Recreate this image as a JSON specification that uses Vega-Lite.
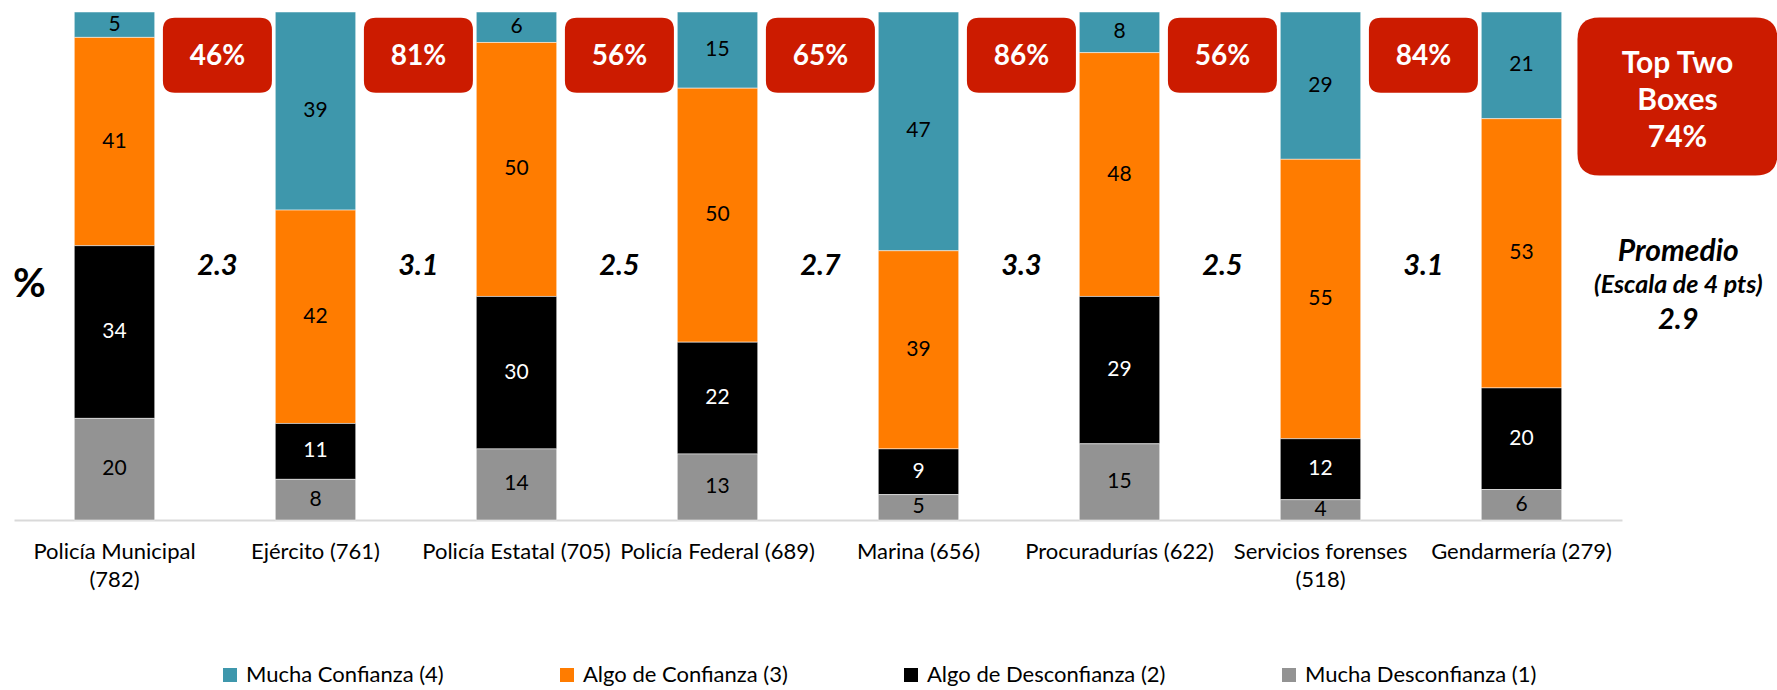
{
  "$schema": "https://vega.github.io/schema/vega-lite/v6.json",
  "width": 1608,
  "height": 508,
  "autosize": {"type": "none"},
  "padding": {"left": 14, "top": 12, "right": 155, "bottom": 170},
  "background": "white",
  "config": {"font": "Lato", "view": {"stroke": null}},
  "datasets": {
    "barras": [
      {"categoria": "Policía Municipal (782)", "nivel": 4, "respuesta": "Mucha Confianza (4)", "valor": 5},
      {"categoria": "Policía Municipal (782)", "nivel": 3, "respuesta": "Algo de Confianza (3)", "valor": 41},
      {"categoria": "Policía Municipal (782)", "nivel": 2, "respuesta": "Algo de Desconfianza (2)", "valor": 34},
      {"categoria": "Policía Municipal (782)", "nivel": 1, "respuesta": "Mucha Desconfianza (1)", "valor": 20},
      {"categoria": "Ejército (761)", "nivel": 4, "respuesta": "Mucha Confianza (4)", "valor": 39},
      {"categoria": "Ejército (761)", "nivel": 3, "respuesta": "Algo de Confianza (3)", "valor": 42},
      {"categoria": "Ejército (761)", "nivel": 2, "respuesta": "Algo de Desconfianza (2)", "valor": 11},
      {"categoria": "Ejército (761)", "nivel": 1, "respuesta": "Mucha Desconfianza (1)", "valor": 8},
      {"categoria": "Policía Estatal (705)", "nivel": 4, "respuesta": "Mucha Confianza (4)", "valor": 6},
      {"categoria": "Policía Estatal (705)", "nivel": 3, "respuesta": "Algo de Confianza (3)", "valor": 50},
      {"categoria": "Policía Estatal (705)", "nivel": 2, "respuesta": "Algo de Desconfianza (2)", "valor": 30},
      {"categoria": "Policía Estatal (705)", "nivel": 1, "respuesta": "Mucha Desconfianza (1)", "valor": 14},
      {"categoria": "Policía Federal (689)", "nivel": 4, "respuesta": "Mucha Confianza (4)", "valor": 15},
      {"categoria": "Policía Federal (689)", "nivel": 3, "respuesta": "Algo de Confianza (3)", "valor": 50},
      {"categoria": "Policía Federal (689)", "nivel": 2, "respuesta": "Algo de Desconfianza (2)", "valor": 22},
      {"categoria": "Policía Federal (689)", "nivel": 1, "respuesta": "Mucha Desconfianza (1)", "valor": 13},
      {"categoria": "Marina (656)", "nivel": 4, "respuesta": "Mucha Confianza (4)", "valor": 47},
      {"categoria": "Marina (656)", "nivel": 3, "respuesta": "Algo de Confianza (3)", "valor": 39},
      {"categoria": "Marina (656)", "nivel": 2, "respuesta": "Algo de Desconfianza (2)", "valor": 9},
      {"categoria": "Marina (656)", "nivel": 1, "respuesta": "Mucha Desconfianza (1)", "valor": 5},
      {"categoria": "Procuradurías (622)", "nivel": 4, "respuesta": "Mucha Confianza (4)", "valor": 8},
      {"categoria": "Procuradurías (622)", "nivel": 3, "respuesta": "Algo de Confianza (3)", "valor": 48},
      {"categoria": "Procuradurías (622)", "nivel": 2, "respuesta": "Algo de Desconfianza (2)", "valor": 29},
      {"categoria": "Procuradurías (622)", "nivel": 1, "respuesta": "Mucha Desconfianza (1)", "valor": 15},
      {"categoria": "Servicios forenses (518)", "nivel": 4, "respuesta": "Mucha Confianza (4)", "valor": 29},
      {"categoria": "Servicios forenses (518)", "nivel": 3, "respuesta": "Algo de Confianza (3)", "valor": 55},
      {"categoria": "Servicios forenses (518)", "nivel": 2, "respuesta": "Algo de Desconfianza (2)", "valor": 12},
      {"categoria": "Servicios forenses (518)", "nivel": 1, "respuesta": "Mucha Desconfianza (1)", "valor": 4},
      {"categoria": "Gendarmería (279)", "nivel": 4, "respuesta": "Mucha Confianza (4)", "valor": 21},
      {"categoria": "Gendarmería (279)", "nivel": 3, "respuesta": "Algo de Confianza (3)", "valor": 53},
      {"categoria": "Gendarmería (279)", "nivel": 2, "respuesta": "Algo de Desconfianza (2)", "valor": 20},
      {"categoria": "Gendarmería (279)", "nivel": 1, "respuesta": "Mucha Desconfianza (1)", "valor": 6}
    ],
    "resumen": [
      {"categoria": "Policía Municipal (782)", "top2": "46%", "promedio": "2.3"},
      {"categoria": "Ejército (761)", "top2": "81%", "promedio": "3.1"},
      {"categoria": "Policía Estatal (705)", "top2": "56%", "promedio": "2.5"},
      {"categoria": "Policía Federal (689)", "top2": "65%", "promedio": "2.7"},
      {"categoria": "Marina (656)", "top2": "86%", "promedio": "3.3"},
      {"categoria": "Procuradurías (622)", "top2": "56%", "promedio": "2.5"},
      {"categoria": "Servicios forenses (518)", "top2": "84%", "promedio": "3.1"}
    ],
    "total": [
      {"categoria": "Gendarmería (279)", "caja": "Top Two\nBoxes\n74%", "titulo": "Promedio", "escala": "(Escala de 4 pts)", "promedio": "2.9"}
    ]
  },
  "layer": [
    {
      "data": {"name": "barras"},
      "mark": {"type": "bar", "stroke": "#FFFFFF", "strokeWidth": 1, "strokeOpacity": 0.5},
      "encoding": {
        "x": {
          "field": "categoria", "type": "nominal", "sort": null,
          "scale": {
            "domain": ["Policía Municipal (782)", "Ejército (761)", "Policía Estatal (705)", "Policía Federal (689)", "Marina (656)", "Procuradurías (622)", "Servicios forenses (518)", "Gendarmería (279)"],
            "paddingInner": 0.6, "paddingOuter": 0.3
          },
          "axis": {
            "title": null, "domain": true, "domainColor": "#D9D9D9", "domainWidth": 2,
            "ticks": false, "labelFontSize": 22, "labelColor": "#000000", "labelPadding": 21,
            "labelAngle": 0, "labelLimit": 300, "labelLineHeight": 28, "labelOverlap": false, "labelBound": false,
            "grid": false,
            "labelExpr": "datum.value == 'Policía Municipal (782)' ? ['Policía Municipal', '(782)'] : datum.value == 'Servicios forenses (518)' ? ['Servicios forenses', '(518)'] : datum.value"
          }
        },
        "y": {
          "field": "valor", "type": "quantitative", "stack": "zero",
          "scale": {"domain": [0, 100], "nice": false},
          "axis": {
            "title": "%", "titleAngle": 0, "titleFontSize": 40, "titleFontWeight": "bold", "titleColor": "#000000",
            "titleX": 15, "titleY": 272, "titleAlign": "center", "titleBaseline": "middle",
            "domain": false, "ticks": false, "labels": false, "grid": false
          }
        },
        "color": {
          "field": "respuesta", "type": "nominal",
          "scale": {
            "domain": ["Mucha Confianza (4)", "Algo de Confianza (3)", "Algo de Desconfianza (2)", "Mucha Desconfianza (1)"],
            "range": ["#3E97AC", "#FF7C00", "#000000", "#939393"]
          },
          "legend": {
            "orient": "none", "legendX": 205, "legendY": 652, "direction": "horizontal", "columns": 4,
            "title": null, "symbolType": "square", "symbolSize": 196, "symbolStrokeWidth": 0, "symbolOpacity": 1,
            "labelFontSize": 22, "labelOffset": 5, "columnPadding": 112, "labelLimit": 400, "padding": 0,
            "labelColor": "#000000"
          }
        },
        "order": {"field": "nivel", "type": "quantitative"}
      }
    },
    {
      "data": {"name": "barras"},
      "mark": {"type": "text", "fontSize": 21, "align": "center", "baseline": "middle"},
      "encoding": {
        "x": {"field": "categoria", "type": "nominal", "sort": null},
        "y": {"field": "valor", "type": "quantitative", "stack": "zero", "bandPosition": 0.5},
        "detail": {"field": "nivel", "type": "nominal"},
        "order": {"field": "nivel", "type": "quantitative"},
        "text": {"field": "valor", "type": "quantitative"},
        "color": {"condition": {"test": "datum.nivel === 2", "value": "#FFFFFF"}, "value": "#000000"}
      }
    },
    {
      "data": {"name": "resumen"},
      "mark": {
        "type": "point", "filled": true, "opacity": 1, "color": "#CC1B00", "strokeWidth": 0, "size": 11881,
        "shape": "M-0.78,-0.688H0.78Q1,-0.688 1,-0.468V0.468Q1,0.688 0.78,0.688H-0.78Q-1,0.688 -1,0.468V-0.468Q-1,-0.688 -0.78,-0.688Z"
      },
      "encoding": {
        "x": {"field": "categoria", "type": "nominal", "sort": null, "bandPosition": 1.78},
        "y": {"datum": 91.5, "type": "quantitative"}
      }
    },
    {
      "data": {"name": "resumen"},
      "mark": {"type": "text", "fontSize": 28, "fontWeight": "bold", "color": "#FFFFFF", "align": "center", "baseline": "middle", "dy": 2},
      "encoding": {
        "x": {"field": "categoria", "type": "nominal", "sort": null, "bandPosition": 1.78},
        "y": {"datum": 91.5, "type": "quantitative"},
        "text": {"field": "top2"}
      }
    },
    {
      "data": {"name": "resumen"},
      "mark": {"type": "text", "fontSize": 29, "fontWeight": "bold", "fontStyle": "italic", "color": "#000000", "align": "center", "baseline": "middle"},
      "encoding": {
        "x": {"field": "categoria", "type": "nominal", "sort": null, "bandPosition": 1.78},
        "y": {"datum": 50, "type": "quantitative"},
        "text": {"field": "promedio"}
      }
    },
    {
      "data": {"name": "total"},
      "mark": {
        "type": "point", "filled": true, "opacity": 1, "color": "#CC1B00", "strokeWidth": 0, "size": 40000,
        "shape": "M-0.78,-0.79H0.78Q1,-0.79 1,-0.57V0.57Q1,0.79 0.78,0.79H-0.78Q-1,0.79 -1,0.57V-0.57Q-1,-0.79 -0.78,-0.79Z"
      },
      "encoding": {
        "x": {"field": "categoria", "type": "nominal", "sort": null, "bandPosition": 2.44},
        "y": {"datum": 83.35, "type": "quantitative"}
      }
    },
    {
      "data": {"name": "total"},
      "mark": {"type": "text", "fontSize": 30, "fontWeight": "bold", "color": "#FFFFFF", "align": "center", "baseline": "middle", "lineBreak": "\n", "lineHeight": 37, "dy": -33},
      "encoding": {
        "x": {"field": "categoria", "type": "nominal", "sort": null, "bandPosition": 2.44},
        "y": {"datum": 83.35, "type": "quantitative"},
        "text": {"field": "caja"}
      }
    },
    {
      "data": {"name": "total"},
      "mark": {"type": "text", "fontSize": 30, "fontWeight": "bold", "fontStyle": "italic", "color": "#000000", "align": "center", "baseline": "middle"},
      "encoding": {
        "x": {"field": "categoria", "type": "nominal", "sort": null, "bandPosition": 2.45},
        "y": {"datum": 52.8, "type": "quantitative"},
        "text": {"field": "titulo"}
      }
    },
    {
      "data": {"name": "total"},
      "mark": {"type": "text", "fontSize": 25, "fontWeight": "bold", "fontStyle": "italic", "color": "#000000", "align": "center", "baseline": "middle"},
      "encoding": {
        "x": {"field": "categoria", "type": "nominal", "sort": null, "bandPosition": 2.45},
        "y": {"datum": 46.3, "type": "quantitative"},
        "text": {"field": "escala"}
      }
    },
    {
      "data": {"name": "total"},
      "mark": {"type": "text", "fontSize": 29, "fontWeight": "bold", "fontStyle": "italic", "color": "#000000", "align": "center", "baseline": "middle"},
      "encoding": {
        "x": {"field": "categoria", "type": "nominal", "sort": null, "bandPosition": 2.45},
        "y": {"datum": 39.4, "type": "quantitative"},
        "text": {"field": "promedio"}
      }
    }
  ]
}
